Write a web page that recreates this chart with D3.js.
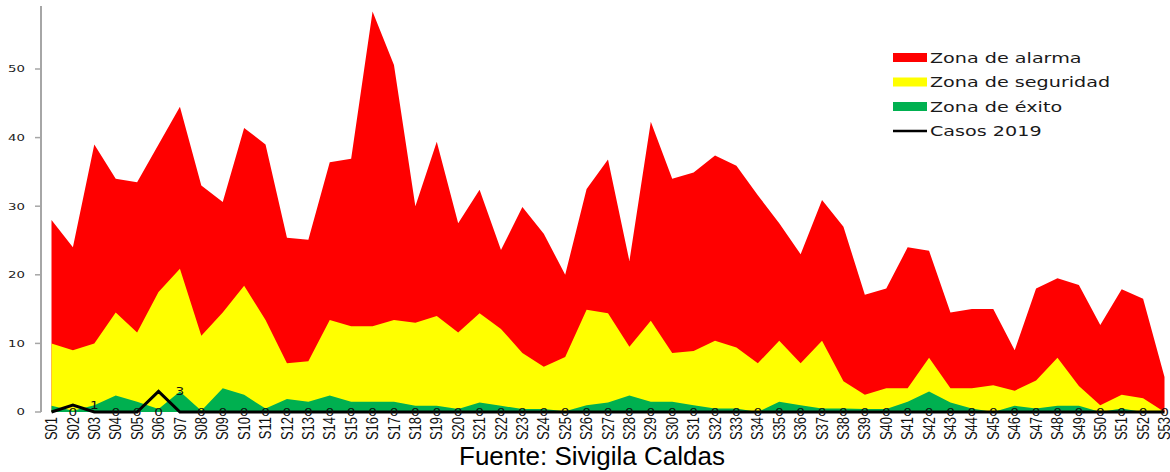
<!DOCTYPE html>
<html>
<head>
<meta charset="utf-8">
<script src="https://cdn.jsdelivr.net/npm/d3@7"></script>
<style>
  body { margin: 0; background: #fff; }
  svg { display: block; }
</style>
</head>
<body>
<div id="chart"></div>
<script>
// semanas epidemiologicas
var weeks = d3.range(1, 54).map(function (d) { return "S" + (d < 10 ? "0" + d : d); });

// limites del canal endemico
var alarma = [28, 24, 39, 34, 33.5, 39, 44.5, 33, 30.6, 41.4, 39, 25.4, 25.1, 36.4, 36.9, 58.4, 50.6, 30,
  39.4, 27.5, 32.4, 23.6, 29.9, 26, 20, 32.5, 36.8, 22, 42.3, 34, 34.9, 37.4, 35.9, 31.6, 27.5, 23, 30.9,
  27, 17.1, 18, 24, 23.5, 14.5, 15, 15, 9, 18, 19.5, 18.5, 12.7, 17.9, 16.5, 5.1];
var seguridad = [10, 9, 10, 14.5, 11.6, 17.5, 20.9, 11.1, 14.5, 18.4, 13.4, 7.1, 7.4, 13.4, 12.5, 12.5, 13.4,
  13, 14, 11.6, 14.4, 12.1, 8.6, 6.6, 8, 14.9, 14.4, 9.5, 13.3, 8.6, 8.9, 10.4, 9.4, 7.1, 10.4, 7.1, 10.4,
  4.5, 2.5, 3.45, 3.45, 7.9, 3.45, 3.45, 3.9, 3.1, 4.6, 7.9, 3.8, 1, 2.5, 2, 0];
var exito = [0.9, 0.2, 1, 2.4, 1.5, 0.45, 3, 0.2, 3.45, 2.5, 0.5, 1.9, 1.5, 2.4, 1.5, 1.5, 1.5, 0.9, 0.9,
  0.45, 1.4, 0.9, 0.45, 0.45, 0.1, 1, 1.4, 2.4, 1.5, 1.5, 1, 0.5, 0.5, 0, 1.5, 1, 0.5, 0.5, 0.45, 0.45, 1.5,
  3, 1.4, 0.5, 0, 0.9, 0.5, 0.9, 0.9, 0, 0.5, 0, 0];
var casos2019 = weeks.map(function (d) { return 0; });
casos2019[1] = 1;
casos2019[5] = 3;

var yTicks = [0, 10, 20, 30, 40, 50];

var legendItems = [
  { name: "Zona de alarma", color: "#ff0000", type: "box" },
  { name: "Zona de seguridad", color: "#ffff00", type: "box" },
  { name: "Zona de éxito", color: "#00b050", type: "box" },
  { name: "Casos 2019", color: "#000000", type: "line" }
];

var width = 1170, height = 472;

var svg = d3.select("#chart").append("svg")
  .attr("width", width)
  .attr("height", height);

var x = d3.scalePoint().domain(weeks).range([51.5, 1164.5]);
var y = d3.scaleLinear().domain([0, 60]).range([412, 0.4]);
var step = x.step();

function area(vals) {
  return d3.area()
    .x(function (d, i) { return x(weeks[i]); })
    .y0(y(0))
    .y1(function (d) { return y(d); })(vals);
}

svg.append("path").attr("d", area(alarma)).attr("fill", "#ff0000");
svg.append("path").attr("d", area(seguridad)).attr("fill", "#ffff00");
svg.append("path").attr("d", area(exito)).attr("fill", "#00b050");

// eje y
svg.append("line")
  .attr("x1", 41).attr("x2", 41)
  .attr("y1", 6).attr("y2", 412)
  .attr("stroke", "#a6a6a6")
  .attr("stroke-width", 2);

var yt = svg.selectAll(".ytick").data(yTicks).enter().append("g")
  .attr("class", "ytick");
yt.append("line")
  .attr("x1", 35).attr("x2", 41)
  .attr("y1", function (d) { return y(d); })
  .attr("y2", function (d) { return y(d); })
  .attr("stroke", "#a6a6a6")
  .attr("stroke-width", 1.5);
yt.append("text")
  .attr("transform", function (d) { return "translate(25," + y(d) + ") scale(1.4,1)"; })
  .attr("dy", "0.35em")
  .attr("text-anchor", "end")
  .attr("font-family", "DejaVu Sans")
  .attr("font-size", 9.5)
  .attr("fill", "#222")
  .text(function (d) { return d; });

// etiquetas eje x
svg.selectAll(".xlab").data(weeks).enter().append("text")
  .attr("class", "xlab")
  .attr("transform", function (d) { return "translate(" + x(d) + ",417) rotate(-90) scale(1,1.2)"; })
  .attr("dy", "0.36em")
  .attr("text-anchor", "end")
  .attr("font-family", "Liberation Sans, Arial")
  .attr("font-size", 13)
  .attr("fill", "#111")
  .text(function (d) { return d; });

// casos 2019
var line = d3.line()
  .x(function (d, i) { return x(weeks[i]); })
  .y(function (d) { return y(d); });

svg.append("path")
  .attr("d", line(casos2019))
  .attr("fill", "none")
  .attr("stroke", "#000")
  .attr("stroke-width", 3);

// etiquetas de valor, desplazadas una semana a la derecha como en el original
svg.selectAll(".vlab").data(casos2019.slice(0, 52)).enter().append("text")
  .attr("class", "vlab")
  .attr("transform", function (d, i) { return "translate(" + (x(weeks[i]) + step) + "," + y(d) + ") scale(1.3,1)"; })
  .attr("dy", "0.35em")
  .attr("text-anchor", "middle")
  .attr("font-family", "DejaVu Sans")
  .attr("font-size", 10.5)
  .attr("fill", "#111")
  .text(function (d) { return d; });

// leyenda
var lg = svg.selectAll(".leg").data(legendItems).enter().append("g")
  .attr("class", "leg")
  .attr("transform", function (d, i) { return "translate(893," + (57.5 + i * 24.5) + ")"; });

lg.filter(function (d) { return d.type == "box"; }).append("rect")
  .attr("x", 0).attr("y", -4.5)
  .attr("width", 34).attr("height", 9)
  .attr("fill", function (d) { return d.color; });

lg.filter(function (d) { return d.type == "line"; }).append("line")
  .attr("x1", 0).attr("x2", 34)
  .attr("y1", 0).attr("y2", 0)
  .attr("stroke", "#000")
  .attr("stroke-width", 2.5);

lg.append("text")
  .attr("transform", "translate(37,5) scale(1.42,1)")
  .attr("font-family", "DejaVu Sans")
  .attr("font-size", 13.5)
  .attr("fill", "#1a1a1a")
  .text(function (d) { return d.name; });

// fuente
svg.append("text")
  .attr("x", 592)
  .attr("y", 465)
  .attr("text-anchor", "middle")
  .attr("font-family", "Liberation Sans, Arial")
  .attr("font-size", 26)
  .attr("fill", "#000")
  .text("Fuente: Sivigila Caldas");
</script>
</body>
</html>
